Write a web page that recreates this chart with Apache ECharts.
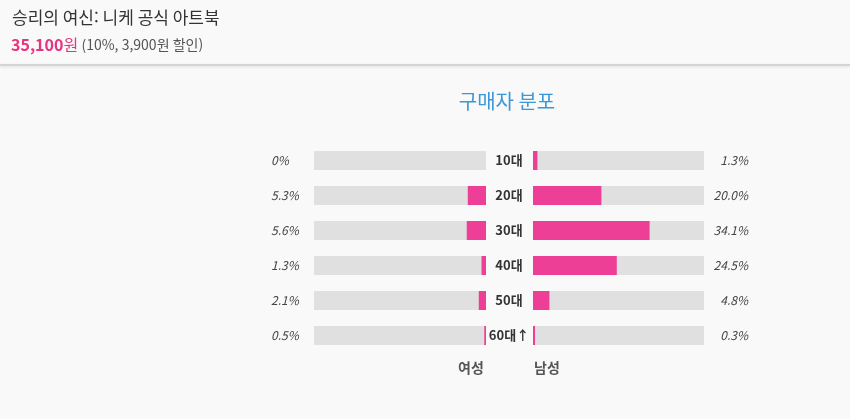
<!DOCTYPE html>
<html lang="ko">
<head>
<meta charset="UTF-8">
<title>구매자 분포</title>
<script src="https://cdn.jsdelivr.net/npm/echarts@6/dist/echarts.min.js"></script>
<style>
  html, body { margin: 0; padding: 0; background: #f9f9f9; }
  #main { width: 850px; height: 419px; }
</style>
</head>
<body>
<div id="main"></div>
<script>
  // 연령대, 여성/남성 비율(%)
  var ages = ['10대', '20대', '30대', '40대', '50대', '60대↑'];
  var female = [0, 5.3, 5.6, 1.3, 2.1, 0.5];
  var male = [1.3, 20.0, 34.1, 24.5, 4.8, 0.3];
  var maxPct = 50;

  var font = '"Noto Sans CJK KR", "Noto Sans", sans-serif';
  var pink = '#ec3f95';

  function fmt(v) {
    return v === 0 ? '0%' : v.toFixed(1) + '%';
  }

  var myChart = echarts.init(document.getElementById('main'));
  var option = {
    backgroundColor: '#f9f9f9',
    textStyle: { fontFamily: font },
    grid: [
      { left: 314, width: 172, top: 143, height: 210 },
      { left: 533, width: 171, top: 143, height: 210 }
    ],
    xAxis: [
      { gridIndex: 0, type: 'value', min: 0, max: maxPct, inverse: true, show: false },
      { gridIndex: 1, type: 'value', min: 0, max: maxPct, show: false }
    ],
    yAxis: [
      {
        gridIndex: 0, type: 'category', data: ages, inverse: true, position: 'right',
        axisLine: { show: false }, axisTick: { show: false },
        axisLabel: { align: 'center', margin: 23, color: '#333', fontSize: 13, fontWeight: 'bold', fontFamily: font }
      },
      {
        gridIndex: 0, type: 'category', data: female.map(fmt), inverse: true, position: 'left',
        axisLine: { show: false }, axisTick: { show: false },
        axisLabel: { align: 'left', margin: 43, color: '#444', fontSize: 12, fontStyle: 'italic', fontFamily: font }
      },
      {
        gridIndex: 1, type: 'category', data: ages, inverse: true, position: 'left',
        axisLine: { show: false }, axisTick: { show: false }, axisLabel: { show: false }
      },
      {
        gridIndex: 1, type: 'category', data: male.map(fmt), inverse: true, position: 'right',
        axisLine: { show: false }, axisTick: { show: false },
        axisLabel: { align: 'right', margin: 44, color: '#444', fontSize: 12, fontStyle: 'italic', fontFamily: font }
      }
    ],
    series: [
      {
        name: '여성', type: 'bar', xAxisIndex: 0, yAxisIndex: 0, data: female,
        barWidth: 19, itemStyle: { color: pink },
        showBackground: true, backgroundStyle: { color: '#e0e0e0' }
      },
      {
        name: '남성', type: 'bar', xAxisIndex: 1, yAxisIndex: 2, data: male,
        barWidth: 19, barMinHeight: 2, itemStyle: { color: pink },
        showBackground: true, backgroundStyle: { color: '#e0e0e0' }
      }
    ],
    graphic: [
      {
        type: 'rect', left: 0, top: 64, shape: { width: 850, height: 2 },
        style: { fill: '#d4d4d4', shadowBlur: 3, shadowColor: 'rgba(0,0,0,0.12)', shadowOffsetY: 1 }
      },
      {
        type: 'text', x: 12, y: 18,
        style: { text: '승리의 여신: 니케 공식 아트북', fill: '#333', font: '17px ' + font, textVerticalAlign: 'middle' }
      },
      {
        type: 'text', x: 11, y: 45,
        style: {
          text: '{p|35,100}{w|원} {g|(10%, 3,900원 할인)}',
          textVerticalAlign: 'middle',
          rich: {
            p: { fill: '#e8337f', fontSize: 16, fontWeight: 'bold', fontFamily: font },
            w: { fill: '#e8337f', fontSize: 16, fontFamily: font },
            g: { fill: '#555', fontSize: 14, fontFamily: font }
          }
        }
      },
      {
        type: 'text', x: 507, y: 101,
        style: { text: '구매자 분포', fill: '#3b98d6', font: '20px ' + font, textAlign: 'center', textVerticalAlign: 'middle' }
      },
      {
        type: 'text', x: 471, y: 368,
        style: { text: '여성', fill: '#555', font: 'bold 14px ' + font, textAlign: 'center', textVerticalAlign: 'middle' }
      },
      {
        type: 'text', x: 547, y: 368,
        style: { text: '남성', fill: '#555', font: 'bold 14px ' + font, textAlign: 'center', textVerticalAlign: 'middle' }
      }
    ]
  };
  myChart.setOption(option);
</script>
</body>
</html>
